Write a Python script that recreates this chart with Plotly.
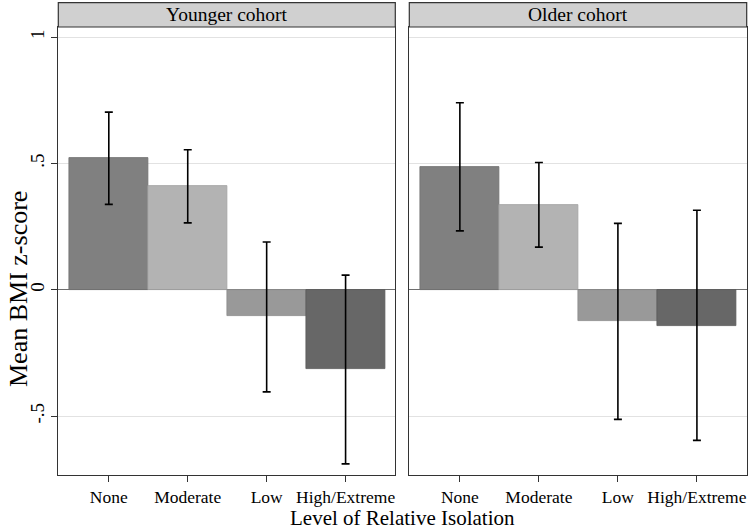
import plotly.graph_objects as go

categories = ["None", "Moderate", "Low", "High/Extreme"]
panels = ["Younger cohort", "Older cohort"]

younger_mean = [0.52, 0.409, -0.105, -0.314]
younger_lo = [0.338, 0.265, -0.404, -0.689]
younger_hi = [0.703, 0.554, 0.189, 0.058]

older_mean = [0.485, 0.335, -0.125, -0.142]
older_lo = [0.233, 0.169, -0.513, -0.596]
older_hi = [0.740, 0.504, 0.263, 0.315]

bar_colors = ["#808080", "#b3b3b3", "#999999", "#676767"]
edge_colors = ["#707070", "#a3a3a3", "#898989", "#5a5a5a"]

ytick_vals = [-0.5, 0, 0.5, 1]
ytick_text = ["-.5", "0", ".5", "1"]

FONT = "Liberation Serif, Times New Roman, serif"
W, H = 750, 530

fig = go.Figure()

xpos = list(range(len(categories)))
series = [(younger_mean, younger_lo, younger_hi), (older_mean, older_lo, older_hi)]
for i, (m, lo, hi) in enumerate(series):
    ax = "" if i == 0 else "2"
    fig.add_trace(go.Bar(
        x=xpos, y=m, width=1.0,
        marker=dict(color=bar_colors, line=dict(color=edge_colors, width=0.8)),
        error_y=dict(type="data", symmetric=False,
                     array=[h - v for h, v in zip(hi, m)],
                     arrayminus=[v - l for v, l in zip(m, lo)],
                     color="black", thickness=1.6, width=4),
        xaxis="x" + ax, yaxis="y" + ax, showlegend=False, hoverinfo="skip",
    ))

px = lambda p: p / W
py = lambda p: 1 - p / H

x1dom = [px(58.3), px(395.3)]
x2dom = [px(409.3), px(746.7)]
ydom = [py(475), py(27)]
xr = [-0.64, 3.63]
yr = [-0.733, 1.04]

common_x = dict(range=xr, tickvals=xpos, ticktext=categories, ticks="outside",
                ticklen=6, tickcolor="#333", tickwidth=1, showgrid=False,
                zeroline=False, showline=True, linecolor="#333", linewidth=1.2,
                mirror=True, tickfont=dict(family=FONT, size=17.5, color="#000"))
common_y = dict(range=yr, tickvals=ytick_vals, showgrid=True, gridcolor="#e2e2e2",
                gridwidth=1, zeroline=True, zerolinecolor="#6e6e6e", zerolinewidth=1.2,
                showline=True, linecolor="#333", linewidth=1.2, mirror=True,
                domain=ydom)

fig.update_layout(
    width=W, height=H, margin=dict(l=0, r=0, t=0, b=0),
    paper_bgcolor="white", plot_bgcolor="white", bargap=0,
    font=dict(family=FONT, color="#000"),
    xaxis=dict(domain=x1dom, anchor="y", **common_x),
    xaxis2=dict(domain=x2dom, anchor="y2", **common_x),
    yaxis=dict(anchor="x", ticktext=ytick_text, ticks="outside", ticklen=6,
               tickcolor="#333", tickangle=-90,
               tickfont=dict(family=FONT, size=19, color="#000"), **common_y),
    yaxis2=dict(anchor="x2", showticklabels=False, ticks="", **common_y),
)

# strip headers
for dom, title in zip([x1dom, x2dom], panels):
    fig.add_shape(type="rect", xref="paper", yref="paper",
                  x0=dom[0], x1=dom[1], y0=py(27), y1=py(2.7),
                  fillcolor="#d0d0d0", line=dict(color="#333", width=1.2))
    fig.add_annotation(xref="paper", yref="paper", x=(dom[0] + dom[1]) / 2,
                       y=(py(27) + py(2.7)) / 2, text=title, showarrow=False,
                       font=dict(family=FONT, size=19.5, color="#000"),
                       xanchor="center", yanchor="middle")

fig.add_annotation(xref="paper", yref="paper", x=px(402), y=py(518),
                   text="Level of Relative Isolation", showarrow=False,
                   font=dict(family=FONT, size=21, color="#000"),
                   xanchor="center", yanchor="middle")
fig.add_annotation(xref="paper", yref="paper", x=px(18), y=py(289),
                   text="Mean BMI z-score", showarrow=False, textangle=-90,
                   font=dict(family=FONT, size=26, color="#000"),
                   xanchor="center", yanchor="middle")

fig.write_html("out.html", config={"displayModeBar": False},
               post_script="document.body.style.margin='0';document.body.style.overflow='hidden';")
